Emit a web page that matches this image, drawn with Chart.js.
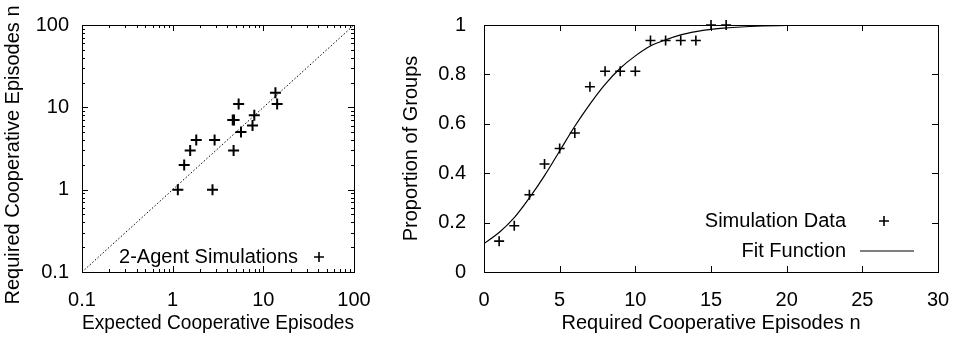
<!DOCTYPE html>
<html>
<head>
<meta charset="utf-8">
<script src="https://cdn.jsdelivr.net/npm/chart.js@4"></script>
<style>
  html, body { margin: 0; padding: 0; background: #fff; }
  #wrap { position: relative; width: 961px; height: 339px; }
  #left { position: absolute; left: 0; top: 0; }
  #right { position: absolute; left: 380px; top: 0; }
</style>
</head>
<body>
<div id="wrap">
  <canvas id="left" width="380" height="339"></canvas>
  <canvas id="right" width="581" height="339"></canvas>
</div>
<script>
// left panel: expected vs required cooperative episodes (log-log)
const expected_eps = [1.14, 2.75, 1.34, 1.56, 1.82, 2.9, 4.7, 4.6, 4.75, 5.34, 5.67, 7.6, 7.95, 13.6, 14.2];
const required_eps = [1, 1, 2, 3, 4, 4, 3, 7, 7, 11, 5, 6, 8, 15, 11];
const log_ticks = [0.1, 1, 10, 100];
const log_minor = [2, 3, 4, 5, 6, 7, 8, 9];

// right panel: proportion of groups vs required episodes
const n_values = [1, 2, 3, 4, 5, 6, 7, 8, 9, 10, 11, 12, 13, 14, 15, 16];
const group_share = [0.125, 0.1875, 0.3125, 0.4375, 0.5, 0.5625, 0.75, 0.8125, 0.8125, 0.8125,
                     0.9375, 0.9375, 0.9375, 0.9375, 1, 1];
const fit_n = [0, 1, 2, 3, 4, 5, 6, 7, 8, 9, 10, 11, 12, 13, 14, 15, 16, 17, 18, 20, 22, 25, 30];
const fit_share = [0.115, 0.16, 0.22, 0.30, 0.39, 0.49, 0.59, 0.68, 0.76, 0.825, 0.875, 0.915, 0.94,
                   0.96, 0.973, 0.982, 0.988, 0.992, 0.995, 0.998, 0.999, 1, 1];
const n_ticks = [0, 5, 10, 15, 20, 25, 30];
const share_ticks = [0, 0.2, 0.4, 0.6, 0.8, 1];

const FONT = '"Liberation Sans", Arial, sans-serif';
const font = { family: FONT, size: 20 };

function drawCross(ctx, x, y, r, w) {
  ctx.save();
  ctx.lineWidth = w;
  ctx.beginPath();
  ctx.moveTo(x - r, y); ctx.lineTo(x + r, y);
  ctx.moveTo(x, y - r); ctx.lineTo(x, y + r);
  ctx.stroke();
  ctx.restore();
}

// gnuplot-like frame: box, inward mirrored ticks, key in the corner
const gnuFrame = {
  id: 'gnuFrame',
  afterDraw(chart, args, o) {
    const { ctx, chartArea: a } = chart;
    const xs = chart.scales.x, ys = chart.scales.y;
    ctx.save();
    ctx.strokeStyle = '#000';
    ctx.fillStyle = '#000';
    ctx.lineWidth = 1;
    ctx.beginPath();
    const mark = (vals, len, scale, horiz) => {
      for (const v of vals) {
        const p = Math.round(scale.getPixelForValue(v)) + 0.5;
        if (horiz) {
          ctx.moveTo(p, a.bottom); ctx.lineTo(p, a.bottom - len);
          ctx.moveTo(p, a.top); ctx.lineTo(p, a.top + len);
        } else {
          ctx.moveTo(a.left, p); ctx.lineTo(a.left + len, p);
          ctx.moveTo(a.right, p); ctx.lineTo(a.right - len, p);
        }
      }
    };
    mark(o.xMajor, 6, xs, true);
    mark(o.yMajor, 6, ys, false);
    if (o.xMinor) mark(o.xMinor, 3, xs, true);
    if (o.yMinor) mark(o.yMinor, 3, ys, false);
    ctx.stroke();
    ctx.strokeRect(a.left + 0.5, a.top + 0.5, a.right - a.left, a.bottom - a.top);

    ctx.font = '20px ' + FONT;
    ctx.textBaseline = 'middle';
    ctx.textAlign = 'right';
    for (const k of o.key) {
      const ty = a.bottom - k.up;
      ctx.fillText(k.text, a.right - k.textRight, ty);
      if (k.kind === 'cross') {
        drawCross(ctx, a.right - k.sample, ty, 5, 1.6);
      } else {
        ctx.beginPath();
        ctx.lineWidth = 1.2;
        ctx.moveTo(a.right - k.sample - 27, ty);
        ctx.lineTo(a.right - k.sample + 27, ty);
        ctx.stroke();
      }
    }
    if (o.yTitle) {
      ctx.translate(o.yTitle.x, o.yTitle.y);
      ctx.rotate(-Math.PI / 2);
      ctx.textAlign = 'center';
      ctx.fillText(o.yTitle.text, 0, 0);
    }
    ctx.restore();
  }
};

const minorVals = [];
for (const d of log_ticks.slice(0, -1)) for (const m of log_minor) minorVals.push(d * m);

new Chart(document.getElementById('left'), {
  type: 'scatter',
  data: {
    datasets: [
      {
        data: [{ x: log_ticks[0], y: log_ticks[0] }, { x: log_ticks[3], y: log_ticks[3] }],
        showLine: true,
        borderColor: '#000',
        borderWidth: 1,
        borderDash: [1.5, 2],
        pointRadius: 0
      },
      {
        data: expected_eps.map((x, i) => ({ x, y: required_eps[i] })),
        pointStyle: 'cross',
        pointRadius: 5.5,
        pointBorderWidth: 2,
        borderColor: '#000',
        backgroundColor: '#000',
        clip: false
      }
    ]
  },
  options: {
    responsive: false,
    animation: false,
    devicePixelRatio: 1,
    layout: { padding: { left: 0, top: 25, right: 26, bottom: 0 } },
    plugins: {
      legend: { display: false },
      tooltip: { enabled: false },
      gnuFrame: {
        xMajor: log_ticks, yMajor: log_ticks, xMinor: minorVals, yMinor: minorVals,
        key: [{ text: '2-Agent Simulations', textRight: 56, sample: 35, up: 15, kind: 'cross' }],
        yTitle: { text: 'Required Cooperative Episodes n', x: 13.5, y: 155 }
      }
    },
    scales: {
      x: {
        type: 'logarithmic', min: 0.1, max: 100,
        afterBuildTicks: s => { s.ticks = log_ticks.map(v => ({ value: v })); },
        afterFit: s => { s.height = 67; },
        grid: { display: false }, border: { display: false },
        ticks: { color: '#000', font, padding: 8, maxRotation: 0, autoSkip: false, callback: v => String(v) },
        title: { display: true, text: 'Expected Cooperative Episodes', color: '#000', font, padding: { top: 0, bottom: 4 } }
      },
      y: {
        type: 'logarithmic', min: 0.1, max: 100,
        afterBuildTicks: s => { s.ticks = log_ticks.map(v => ({ value: v })); },
        afterFit: s => { s.width = 82; },
        grid: { display: false }, border: { display: false },
        ticks: { color: '#000', font, padding: 5, autoSkip: false, callback: v => String(v) }
      }
    }
  },
  plugins: [gnuFrame]
});

new Chart(document.getElementById('right'), {
  type: 'scatter',
  data: {
    datasets: [
      {
        data: n_values.map((x, i) => ({ x, y: group_share[i] })),
        pointStyle: 'cross',
        pointRadius: 5,
        pointBorderWidth: 1.6,
        borderColor: '#000',
        backgroundColor: '#000',
        clip: false
      },
      {
        data: fit_n.map((x, i) => ({ x, y: fit_share[i] })),
        showLine: true,
        cubicInterpolationMode: 'monotone',
        borderColor: '#000',
        borderWidth: 1.2,
        pointRadius: 0
      }
    ]
  },
  options: {
    responsive: false,
    animation: false,
    devicePixelRatio: 1,
    layout: { padding: { left: 0, top: 25, right: 23, bottom: 0 } },
    plugins: {
      legend: { display: false },
      tooltip: { enabled: false },
      gnuFrame: {
        xMajor: n_ticks, yMajor: share_ticks,
        key: [
          { text: 'Simulation Data', textRight: 92, sample: 54, up: 51, kind: 'cross' },
          { text: 'Fit Function', textRight: 92, sample: 51, up: 21, kind: 'line' }
        ]
      }
    },
    scales: {
      x: {
        type: 'linear', min: 0, max: 30,
        afterBuildTicks: s => { s.ticks = n_ticks.map(v => ({ value: v })); },
        afterFit: s => { s.height = 67; },
        grid: { display: false }, border: { display: false },
        ticks: { color: '#000', font, padding: 8, maxRotation: 0, autoSkip: false, callback: v => String(v) },
        title: { display: true, text: 'Required Cooperative Episodes n', color: '#000', font, padding: { top: 0, bottom: 4 } }
      },
      y: {
        type: 'linear', min: 0, max: 1,
        afterBuildTicks: s => { s.ticks = share_ticks.map(v => ({ value: v })); },
        afterFit: s => { s.width = 104; },
        grid: { display: false }, border: { display: false },
        ticks: { color: '#000', font, padding: 10, autoSkip: false, callback: v => String(v) },
        title: { display: true, text: 'Proportion of Groups', color: '#000', font, padding: { top: 19, bottom: 0 } }
      }
    }
  },
  plugins: [gnuFrame]
});
</script>
</body>
</html>
